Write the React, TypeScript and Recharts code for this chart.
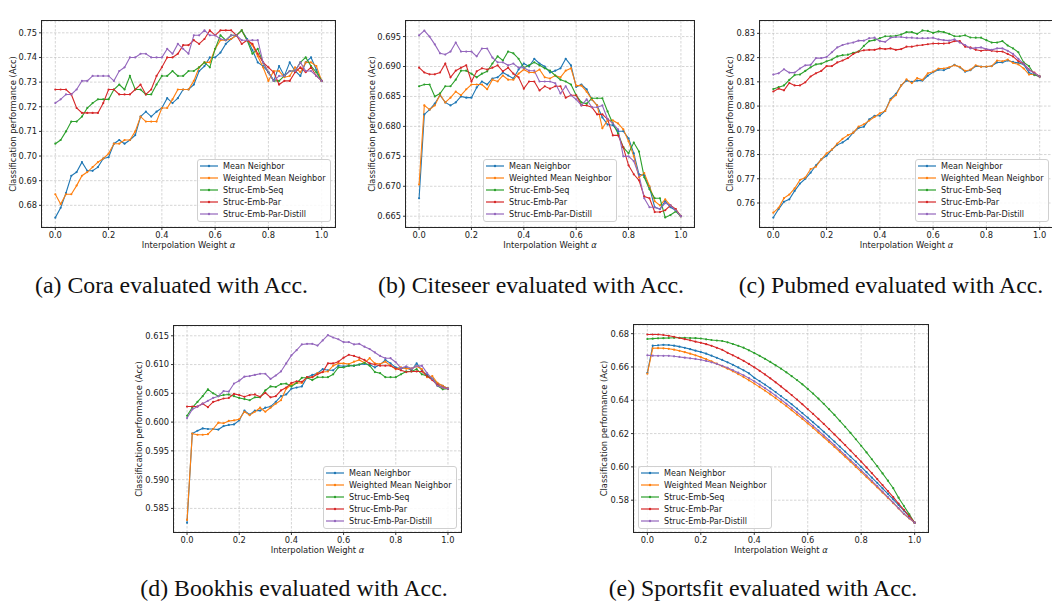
import React from 'react';
import { LineChart, Line, XAxis, YAxis, CartesianGrid, Legend } from 'recharts';

const ALPHA = [
  0, 0.02, 0.04, 0.06, 0.08, 0.1, 0.12, 0.14, 0.16, 0.18,
  0.2, 0.22, 0.24, 0.26, 0.28, 0.3, 0.32, 0.34, 0.36, 0.38,
  0.4, 0.42, 0.44, 0.46, 0.48, 0.5, 0.52, 0.54, 0.56, 0.58,
  0.6, 0.62, 0.64, 0.66, 0.68, 0.7, 0.72, 0.74, 0.76, 0.78,
  0.8, 0.82, 0.84, 0.86, 0.88, 0.9, 0.92, 0.94, 0.96, 0.98,
  1.0,
];

const SERIES_NAMES = ['Mean Neighbor', 'Weighted Mean Neighbor', 'Struc-Emb-Seq', 'Struc-Emb-Par', 'Struc-Emb-Par-Distill'];
const COLORS = ['#1f77b4', '#ff7f0e', '#2ca02c', '#d62728', '#9467bd'];
const X_TICKS = [0, 0.2, 0.4, 0.6, 0.8, 1.0];

// (a) Cora
const coraMean = [
  0.675, 0.679, 0.685, 0.692, 0.6935, 0.6975, 0.694, 0.694, 0.6955, 0.699,
  0.6995, 0.705, 0.7065, 0.705, 0.7065, 0.7085, 0.716, 0.718, 0.716, 0.718,
  0.7195, 0.7235, 0.7215, 0.7235, 0.727, 0.727, 0.729, 0.7345, 0.7365, 0.74,
  0.74, 0.742, 0.7455, 0.7475, 0.749, 0.751, 0.7475, 0.743, 0.738, 0.7365,
  0.734, 0.7305, 0.7365, 0.7325, 0.738, 0.7345, 0.7325, 0.738, 0.74, 0.735,
  0.7305,
];
const coraWeighted = [
  0.6845, 0.6805, 0.6845, 0.6845, 0.688, 0.692, 0.6935, 0.6955, 0.6975, 0.699,
  0.701, 0.705, 0.705, 0.7065, 0.7065, 0.71, 0.716, 0.714, 0.714, 0.714,
  0.7195, 0.7195, 0.723, 0.727, 0.727, 0.727, 0.7305, 0.736, 0.738, 0.738,
  0.7435, 0.747, 0.747, 0.7475, 0.749, 0.751, 0.747, 0.745, 0.7405, 0.736,
  0.7305, 0.7345, 0.7345, 0.732, 0.7325, 0.736, 0.734, 0.738, 0.738, 0.7365,
  0.7305,
];
const coraSeq = [
  0.705, 0.7065, 0.71, 0.714, 0.714, 0.716, 0.7195, 0.7215, 0.723, 0.723,
  0.723, 0.727, 0.729, 0.727, 0.7325, 0.727, 0.727, 0.725, 0.725, 0.729,
  0.7325, 0.7325, 0.7345, 0.7325, 0.7325, 0.7345, 0.7345, 0.736, 0.738, 0.736,
  0.7435, 0.749, 0.747, 0.749, 0.749, 0.751, 0.747, 0.7415, 0.7435, 0.738,
  0.734, 0.7305, 0.7305, 0.7325, 0.7345, 0.7345, 0.738, 0.74, 0.7365, 0.734,
  0.7305,
];
const coraPar = [
  0.727, 0.727, 0.727, 0.725, 0.7195, 0.7175, 0.7175, 0.7175, 0.7175, 0.7215,
  0.727, 0.727, 0.725, 0.725, 0.725, 0.727, 0.729, 0.725, 0.727, 0.7325,
  0.736, 0.74, 0.74, 0.7415, 0.745, 0.745, 0.747, 0.7455, 0.7475, 0.751,
  0.749, 0.751, 0.751, 0.751, 0.749, 0.7455, 0.747, 0.7455, 0.7415, 0.738,
  0.736, 0.734, 0.729, 0.7305, 0.7305, 0.734, 0.736, 0.734, 0.736, 0.7325,
  0.7305,
];
const coraDistill = [
  0.7215, 0.723, 0.725, 0.725, 0.727, 0.7305, 0.7305, 0.7325, 0.7325, 0.7325,
  0.7325, 0.7305, 0.7345, 0.736, 0.74, 0.74, 0.7415, 0.7415, 0.74, 0.74,
  0.74, 0.7435, 0.7415, 0.7455, 0.7435, 0.7415, 0.749, 0.749, 0.751, 0.749,
  0.749, 0.7475, 0.747, 0.749, 0.749, 0.747, 0.747, 0.747, 0.747, 0.738,
  0.734, 0.7305, 0.7325, 0.7325, 0.7345, 0.7345, 0.738, 0.7345, 0.7345, 0.7325,
  0.7305,
];
const coraTicks = [0.68, 0.69, 0.7, 0.71, 0.72, 0.73, 0.74, 0.75];

// (b) Citeseer
const citeMean = [
  0.668, 0.682, 0.6828, 0.6838, 0.6852, 0.684, 0.6835, 0.684, 0.685, 0.6848,
  0.6848, 0.6865, 0.6875, 0.687, 0.688, 0.6882, 0.689, 0.6885, 0.688, 0.6895,
  0.6905, 0.69, 0.6913, 0.6905, 0.69, 0.689, 0.6893, 0.6897, 0.6913, 0.6902,
  0.6866, 0.687, 0.6862, 0.6845, 0.6835, 0.6815, 0.6803, 0.6802, 0.6792, 0.6792,
  0.678, 0.6755, 0.672, 0.6718, 0.6698, 0.6665, 0.6662, 0.6675, 0.6665, 0.666,
  0.665,
];
const citeWeighted = [
  0.6703, 0.6835, 0.6828, 0.6835, 0.6853, 0.684, 0.6848, 0.6858, 0.6852, 0.6862,
  0.687, 0.687, 0.687, 0.6862, 0.6878, 0.6875, 0.6885, 0.6878, 0.6878, 0.6888,
  0.6895, 0.689, 0.689, 0.6895, 0.6882, 0.688, 0.6885, 0.6882, 0.6893, 0.6897,
  0.6868, 0.6868, 0.6858, 0.6845, 0.6835, 0.6797, 0.681, 0.681, 0.6805, 0.6795,
  0.6775, 0.675, 0.6715, 0.6722, 0.67, 0.6675, 0.6668, 0.6678, 0.6668, 0.6662,
  0.665,
];
const citeSeq = [
  0.6867, 0.687, 0.687, 0.685, 0.6855, 0.6867, 0.6867, 0.6878, 0.6893, 0.6893,
  0.6888, 0.6882, 0.6888, 0.6892, 0.6905, 0.6917, 0.691, 0.6925, 0.6922, 0.6913,
  0.6898, 0.6902, 0.6907, 0.6902, 0.6897, 0.6893, 0.6885, 0.6878, 0.6875, 0.687,
  0.6852, 0.684, 0.6838, 0.6847, 0.6847, 0.6847, 0.6825, 0.6805, 0.6788, 0.6765,
  0.6755, 0.6773, 0.6758, 0.6715, 0.6695, 0.668, 0.668, 0.6648, 0.6652, 0.6658,
  0.665,
];
const citePar = [
  0.6898, 0.689, 0.6887, 0.6887, 0.689, 0.6905, 0.6882, 0.6893, 0.6898, 0.6902,
  0.6875, 0.6892, 0.6897, 0.6895, 0.6898, 0.6902, 0.6892, 0.6898, 0.6888, 0.6882,
  0.6863, 0.6875, 0.6875, 0.686, 0.6867, 0.6863, 0.6867, 0.6867, 0.6848, 0.6852,
  0.6852, 0.6835, 0.6835, 0.6832, 0.682, 0.682, 0.6812, 0.6785, 0.6785, 0.6765,
  0.6735, 0.672, 0.671, 0.6683, 0.668, 0.6657, 0.6657, 0.666, 0.6668, 0.6662,
  0.665,
];
const citeDistill = [
  0.6952, 0.696, 0.695, 0.6937, 0.6922, 0.692, 0.6925, 0.694, 0.6925, 0.6925,
  0.6925, 0.6917, 0.693, 0.693, 0.6915, 0.6907, 0.6907, 0.6902, 0.6905, 0.6898,
  0.6898, 0.6893, 0.6893, 0.6875, 0.6875, 0.6875, 0.6872, 0.6855, 0.6867, 0.6852,
  0.6845, 0.6835, 0.6845, 0.6832, 0.6832, 0.6835, 0.6812, 0.6805, 0.6795, 0.675,
  0.675, 0.6742, 0.6718, 0.668, 0.6665, 0.6665, 0.6662, 0.6672, 0.6668, 0.666,
  0.665,
];
const citeTicks = [0.665, 0.67, 0.675, 0.68, 0.685, 0.69, 0.695];

// (c) Pubmed
const pubMean = [
  0.754, 0.7575, 0.7605, 0.7615, 0.765, 0.768, 0.77, 0.7725, 0.7755, 0.778,
  0.7795, 0.782, 0.784, 0.785, 0.7865, 0.789, 0.791, 0.7915, 0.7945, 0.796,
  0.796, 0.798, 0.803, 0.805, 0.8085, 0.8105, 0.81, 0.8105, 0.8105, 0.8125,
  0.814, 0.815, 0.8148, 0.8158, 0.817, 0.816, 0.8142, 0.8148, 0.8165, 0.8163,
  0.8162, 0.8165, 0.818, 0.818, 0.8188, 0.8182, 0.8178, 0.8172, 0.8138, 0.8128,
  0.8122,
];
const pubWeighted = [
  0.756, 0.758, 0.762, 0.7635, 0.766, 0.7695, 0.7705, 0.774, 0.775, 0.778,
  0.7805, 0.782, 0.7845, 0.7865, 0.788, 0.789, 0.7915, 0.7925, 0.794, 0.7955,
  0.797, 0.798, 0.8025, 0.8045, 0.8085, 0.811, 0.8095, 0.8115, 0.8108, 0.8135,
  0.8142, 0.8155, 0.8155, 0.816, 0.8168, 0.8162, 0.8145, 0.815, 0.8168, 0.8162,
  0.8163, 0.8165, 0.8188, 0.8185, 0.8192, 0.8178, 0.8172, 0.8155, 0.813, 0.813,
  0.8122,
];
const pubSeq = [
  0.807, 0.8078, 0.8085, 0.8108, 0.8128, 0.813, 0.8145, 0.816, 0.8172, 0.8175,
  0.8185, 0.8192, 0.8205, 0.821, 0.8212, 0.822, 0.8225, 0.8248, 0.8268, 0.8272,
  0.828, 0.8288, 0.8288, 0.829, 0.8295, 0.8305, 0.8305, 0.8298, 0.8312, 0.831,
  0.8302, 0.8308, 0.8305, 0.8298, 0.8288, 0.8288, 0.8292, 0.8283, 0.8282, 0.8282,
  0.8272, 0.8262, 0.8262, 0.8268, 0.825, 0.8238, 0.8222, 0.818, 0.8165, 0.813,
  0.8122,
];
const pubPar = [
  0.806, 0.8072, 0.8065, 0.8095, 0.8085, 0.8085, 0.8098, 0.8122, 0.8135, 0.8145,
  0.8165, 0.8165, 0.818, 0.8188, 0.8198, 0.8215, 0.8225, 0.823, 0.8232, 0.8232,
  0.8238, 0.8235, 0.8238, 0.8232, 0.8235, 0.8245, 0.8245, 0.825, 0.8252, 0.8255,
  0.8258, 0.8258, 0.8258, 0.826, 0.8268, 0.8268, 0.8245, 0.8242, 0.8232, 0.8228,
  0.8232, 0.8228, 0.8225, 0.8225, 0.8215, 0.8205, 0.8185, 0.8175, 0.815, 0.8138,
  0.8122,
];
const pubDistill = [
  0.813, 0.8135, 0.8152, 0.8138, 0.8138, 0.8155, 0.8168, 0.817, 0.8198, 0.8198,
  0.8202, 0.8222, 0.8242, 0.8252, 0.8258, 0.8262, 0.827, 0.827, 0.828, 0.8282,
  0.8268, 0.8265, 0.8282, 0.8285, 0.8285, 0.8282, 0.8282, 0.828, 0.828, 0.828,
  0.8282, 0.8275, 0.8272, 0.827, 0.8275, 0.8262, 0.8252, 0.8238, 0.824, 0.8242,
  0.8235, 0.8232, 0.8238, 0.8238, 0.8228, 0.8215, 0.8195, 0.8175, 0.815, 0.8135,
  0.8122,
];
const pubTicks = [0.76, 0.77, 0.78, 0.79, 0.8, 0.81, 0.82, 0.83];

// (d) Bookhis
const bookMean = [
  0.5825, 0.598, 0.5985, 0.5989, 0.5988, 0.5988, 0.5987, 0.5993, 0.5995, 0.5996,
  0.6003, 0.602, 0.6013, 0.602, 0.602, 0.6025, 0.6027, 0.6035, 0.6045, 0.6048,
  0.6058, 0.606, 0.6062, 0.6078, 0.6082, 0.6085, 0.6092, 0.609, 0.609, 0.6098,
  0.6097, 0.6098, 0.6098, 0.61, 0.6101, 0.61, 0.6095, 0.61, 0.6108, 0.6102,
  0.6095, 0.6093, 0.6095, 0.609, 0.6102, 0.609, 0.6082, 0.6075, 0.6067, 0.6063,
  0.6058,
];
const bookWeighted = [
  0.583, 0.598, 0.5978, 0.5978, 0.5979, 0.5988, 0.5999, 0.5998, 0.6002, 0.6003,
  0.6005, 0.6018, 0.6012, 0.6018, 0.6025, 0.6018, 0.6025, 0.6032, 0.6038, 0.6058,
  0.6065, 0.6068, 0.6068, 0.6078, 0.6078, 0.6085, 0.6087, 0.6088, 0.6098, 0.6102,
  0.6102, 0.6101, 0.6105, 0.6108, 0.6103, 0.6111, 0.6102, 0.6101, 0.6105, 0.6098,
  0.6092, 0.6095, 0.6093, 0.6093, 0.6097, 0.6092, 0.6078, 0.608, 0.6068, 0.6063,
  0.6058,
];
const bookSeq = [
  0.6011, 0.6025, 0.6035, 0.6045, 0.6057, 0.605, 0.6045, 0.6047, 0.6048, 0.6045,
  0.6042, 0.604, 0.6038, 0.6043, 0.6043, 0.6055, 0.6062, 0.6061, 0.6066, 0.6067,
  0.6062, 0.6068, 0.6077, 0.6077, 0.6073, 0.6078, 0.6078, 0.6078, 0.6083, 0.6095,
  0.6095, 0.6098, 0.6098, 0.61, 0.6103, 0.6098, 0.6087, 0.6085, 0.6078, 0.6078,
  0.6078, 0.6083, 0.6088, 0.6088, 0.6092, 0.6083, 0.608, 0.6075, 0.6063, 0.6057,
  0.6058,
];
const bookPar = [
  0.6027, 0.6027, 0.6027, 0.6032, 0.6026, 0.6035, 0.6038, 0.6041, 0.6042, 0.6049,
  0.6047, 0.6044, 0.6047, 0.6048, 0.6044, 0.6051, 0.6043, 0.6045, 0.6055, 0.606,
  0.6068, 0.6071, 0.607, 0.6078, 0.6078, 0.6083, 0.6087, 0.6102, 0.6102, 0.6105,
  0.6112, 0.6117, 0.6115, 0.6112, 0.6108, 0.6102, 0.61, 0.6098, 0.6098, 0.6098,
  0.6093, 0.609, 0.6087, 0.6088, 0.6088, 0.6088, 0.608, 0.6073, 0.6065, 0.606,
  0.6058,
];
const bookDistill = [
  0.6007, 0.6022, 0.6027, 0.6032, 0.6037, 0.6042, 0.6045, 0.6054, 0.6053, 0.6067,
  0.6072, 0.6079, 0.608, 0.6082, 0.6084, 0.6084, 0.6075, 0.6081, 0.6088, 0.6102,
  0.6116, 0.6125, 0.6135, 0.6136, 0.6136, 0.6133, 0.6142, 0.6151, 0.6147, 0.6144,
  0.6139, 0.6139, 0.6135, 0.6136, 0.6131, 0.6127, 0.6121, 0.6115, 0.6111, 0.6111,
  0.6104, 0.6094, 0.6097, 0.6093, 0.6097, 0.6098, 0.6085, 0.6075, 0.6063, 0.606,
  0.6058,
];
const bookTicks = [0.585, 0.59, 0.595, 0.6, 0.605, 0.61, 0.615];

// (e) Sportsfit
const sportMean = [
  0.6565, 0.6728, 0.673, 0.6733, 0.6732, 0.6728, 0.6722, 0.6715, 0.6707, 0.6698,
  0.669, 0.668, 0.6668, 0.6655, 0.6642, 0.6628, 0.6613, 0.6597, 0.658, 0.6562,
  0.6535, 0.6515, 0.6494, 0.6472, 0.6449, 0.6425, 0.6401, 0.6376, 0.635, 0.6323,
  0.6296, 0.6268, 0.624, 0.6211, 0.6182, 0.6152, 0.6122, 0.6092, 0.6062, 0.6031,
  0.6, 0.5968, 0.5936, 0.5904, 0.5871, 0.5838, 0.5805, 0.5771, 0.5737, 0.5701,
  0.5665,
];
const sportWeighted = [
  0.656, 0.6712, 0.6713, 0.6712, 0.6709, 0.6704, 0.6697, 0.6689, 0.668, 0.667,
  0.6659, 0.6647, 0.6634, 0.662, 0.6605, 0.659, 0.6574, 0.6557, 0.6539, 0.652,
  0.65, 0.6479, 0.6458, 0.6436, 0.6413, 0.6389, 0.6365, 0.634, 0.6314, 0.6288,
  0.6261, 0.6234, 0.6206, 0.6178, 0.6149, 0.612, 0.6091, 0.6061, 0.6031, 0.6,
  0.597, 0.5939, 0.5908, 0.5877, 0.5846, 0.5814, 0.5782, 0.575, 0.5717, 0.569,
  0.5665,
];
const sportSeq = [
  0.6768, 0.677, 0.6772, 0.6773, 0.6774, 0.6775, 0.6775, 0.6775, 0.6774, 0.6773,
  0.6771, 0.6766, 0.6762, 0.6759, 0.6756, 0.6748, 0.6738, 0.6727, 0.6716, 0.67,
  0.6684, 0.6667, 0.6649, 0.663, 0.661, 0.659, 0.6568, 0.6545, 0.6521, 0.6496,
  0.6468, 0.644, 0.641, 0.6379, 0.6346, 0.6312, 0.6277, 0.6241, 0.6204, 0.6166,
  0.6127, 0.6087, 0.6046, 0.6004, 0.5961, 0.5917, 0.5872, 0.5815, 0.5765, 0.5715,
  0.5665,
];
const sportPar = [
  0.6795, 0.6795, 0.6795, 0.6792, 0.6787, 0.6781, 0.6774, 0.6767, 0.676, 0.6752,
  0.6745, 0.6737, 0.6727, 0.6715, 0.6703, 0.6685, 0.667, 0.6654, 0.6637, 0.6618,
  0.6598, 0.6577, 0.6555, 0.6532, 0.6508, 0.6483, 0.6457, 0.6431, 0.6404, 0.6376,
  0.6347, 0.6318, 0.6288, 0.6258, 0.6227, 0.6195, 0.6163, 0.6131, 0.6098, 0.6065,
  0.6031, 0.5997, 0.5962, 0.5927, 0.5891, 0.5855, 0.5818, 0.578, 0.5742, 0.5704,
  0.5665,
];
const sportDistill = [
  0.667, 0.6668, 0.6667, 0.6667, 0.6667, 0.6664, 0.666, 0.6656, 0.6652, 0.6648,
  0.6643, 0.6636, 0.6628, 0.6618, 0.6607, 0.6595, 0.6581, 0.6566, 0.655, 0.6533,
  0.6514, 0.6494, 0.6473, 0.6451, 0.6428, 0.6404, 0.6379, 0.6354, 0.6328, 0.6301,
  0.6274, 0.6246, 0.6218, 0.6189, 0.616, 0.6131, 0.6101, 0.6071, 0.6041, 0.601,
  0.5979, 0.5948, 0.5916, 0.5884, 0.5852, 0.5819, 0.5786, 0.5752, 0.5718, 0.5692,
  0.5665,
];
const sportTicks = [0.58, 0.6, 0.62, 0.64, 0.66, 0.68];

const FONT = '"DejaVu Sans", sans-serif';
const INK = '#1a1a1a';
const YW = 50;
const MT = 20;
const MR = 6;
const XH = 30;

const panels = [
  { key: 'a', caption: '(a) Cora evaluated with Acc.', series: [coraMean, coraWeighted, coraSeq, coraPar, coraDistill],
    ticks: coraTicks, domain: [0.6712, 0.7548], digits: 2, l: 42, t: 21, w: 293, h: 206, gap: 29.5,
    legX: 197, legY: 159, capX: 171.5, capY: 285 },
  { key: 'b', caption: '(b) Citeseer evaluated with Acc.', series: [citeMean, citeWeighted, citeSeq, citePar, citeDistill],
    ticks: citeTicks, domain: [0.6632, 0.6976], digits: 3, l: 406, t: 21, w: 288, h: 206, gap: 34.5,
    legX: 483, legY: 159, capX: 531, capY: 285 },
  { key: 'c', caption: '(c) Pubmed evaluated with Acc.', series: [pubMean, pubWeighted, pubSeq, pubPar, pubDistill],
    ticks: pubTicks, domain: [0.7501, 0.8351], digits: 2, l: 760, t: 21, w: 293, h: 206, gap: 30,
    legX: 915, legY: 159, capX: 891, capY: 285 },
  { key: 'd', caption: '(d) Bookhis evaluated with Acc.', series: [bookMean, bookWeighted, bookSeq, bookPar, bookDistill],
    ticks: bookTicks, domain: [0.5809, 0.6167], digits: 3, l: 174, t: 326, w: 287, h: 206, gap: 35,
    legX: 323, legY: 466, capX: 294, capY: 588 },
  { key: 'e', caption: '(e) Sportsfit evaluated with Acc.', series: [sportMean, sportWeighted, sportSeq, sportPar, sportDistill],
    ticks: sportTicks, domain: [0.5609, 0.6852], digits: 2, l: 634, t: 325, w: 294, h: 207, gap: 30.5,
    legX: 638, legY: 466, capX: 763, capY: 588 },
];

const TitleLabel = ({ viewBox }: any) =>
  viewBox ? (
    <text x={viewBox.x + viewBox.width / 2} y={viewBox.y - 6.5} textAnchor="middle" dominantBaseline="central"
      fontSize={8.6} fill={INK} fontFamily={FONT}>
      Performance Variation with Interpolation Weight
    </text>
  ) : null;

const XLabel = ({ viewBox }: any) =>
  viewBox ? (
    <text x={viewBox.x + viewBox.width / 2} y={viewBox.y + 18} textAnchor="middle" dominantBaseline="central"
      fontSize={8.4} fill={INK} fontFamily={FONT}>
      Interpolation Weight <tspan fontStyle="italic">α</tspan>
    </text>
  ) : null;

const YLabel = ({ viewBox, gap }: any) => {
  if (!viewBox) return null;
  const x = viewBox.x + viewBox.width - gap;
  const y = viewBox.y + viewBox.height / 2;
  return (
    <text x={x} y={y} transform={`rotate(-90, ${x}, ${y})`} textAnchor="middle" dominantBaseline="central"
      fontSize={8.4} fill={INK} fontFamily={FONT}>
      Classification performance (Acc)
    </text>
  );
};

const LegendBox = () => (
  <div style={{
    width: 134, height: 63, boxSizing: 'border-box', border: '1px solid #d0d0d0', borderRadius: 3,
    background: 'rgba(255,255,255,0.85)', fontFamily: FONT, fontSize: 8.1, color: INK, paddingLeft: 2,
  }}>
    {SERIES_NAMES.map((name, i) => (
      <div key={name} style={{ display: 'flex', alignItems: 'center', height: 12.1, whiteSpace: 'nowrap' }}>
        <svg width={18} height={6} style={{ flex: 'none' }}>
          <line x1={0} y1={3} x2={18} y2={3} stroke={COLORS[i]} strokeWidth={1.2} />
          <circle cx={9} cy={3} r={1.2} fill={COLORS[i]} />
        </svg>
        <span style={{ marginLeft: 5 }}>{name}</span>
      </div>
    ))}
  </div>
);

const Panel = ({ p }: any) => {
  const data = ALPHA.map((a, i) => {
    const row: any = { a };
    p.series.forEach((s: number[], k: number) => { row['s' + k] = s[i]; });
    return row;
  });
  const width = YW + p.w + MR;
  const height = MT + p.h + XH;
  const left = p.l - YW;
  const top = p.t - MT;
  const tickStyle = { fontSize: 8.3, fill: INK, fontFamily: FONT };
  const tickLine = { stroke: '#222', strokeWidth: 0.9 };

  return (
    <div style={{ position: 'absolute', left, top, width, height }}>
      <LineChart width={width} height={height} data={data} margin={{ top: MT, right: MR, left: 0, bottom: 0 }}>
        <CartesianGrid strokeDasharray="2.5 1.5" stroke="#c4c4c4" strokeWidth={0.7} />
        <XAxis dataKey="a" type="number" domain={[-0.05, 1.05]} ticks={X_TICKS} height={XH}
          tickFormatter={(v: number) => v.toFixed(1)} tick={tickStyle} tickSize={3} tickMargin={2}
          axisLine={false} tickLine={tickLine} allowDataOverflow label={<XLabel />} />
        <XAxis xAxisId="top" orientation="top" type="number" domain={[-0.05, 1.05]} height={0}
          tick={false} tickLine={false} axisLine={false} label={<TitleLabel />} />
        <YAxis type="number" domain={p.domain} ticks={p.ticks} width={YW} allowDataOverflow
          tickFormatter={(v: number) => v.toFixed(p.digits)} tick={tickStyle} tickSize={3} tickMargin={2}
          axisLine={false} tickLine={tickLine} label={<YLabel gap={p.gap} />} />
        {SERIES_NAMES.map((name, k) => (
          <Line key={name} name={name} dataKey={'s' + k} type="linear" stroke={COLORS[k]} strokeWidth={1.1}
            dot={{ r: 1.1, fill: COLORS[k], stroke: COLORS[k], strokeWidth: 0 }} activeDot={false}
            isAnimationActive={false} />
        ))}
        <Legend layout="horizontal" verticalAlign="middle" align="center" content={<LegendBox />}
          wrapperStyle={{ left: p.legX - left, top: p.legY - top, width: 134, height: 63 }} />
      </LineChart>
      {/* plot frame (matplotlib spines) */}
      <div style={{
        position: 'absolute', left: YW - 1, top: MT - 1, width: p.w + 2, height: p.h + 2,
        boxSizing: 'border-box', border: '1px solid #262626', pointerEvents: 'none',
      }} />
    </div>
  );
};

export default function App() {
  return (
    <div style={{ position: 'absolute', left: 0, top: 0, width: 1052, height: 607, overflow: 'hidden', background: '#fff' }}>
      {panels.map((p) => <Panel key={p.key} p={p} />)}
      {panels.map((p) => (
        <div key={'cap' + p.key} style={{
          position: 'absolute', left: p.capX, top: p.capY - 12, transform: 'translateX(-50%)', whiteSpace: 'nowrap',
          fontFamily: '"Liberation Serif", "Times New Roman", serif', fontSize: 23.8, lineHeight: '24px', color: '#111',
        }}>
          {p.caption}
        </div>
      ))}
    </div>
  );
}
